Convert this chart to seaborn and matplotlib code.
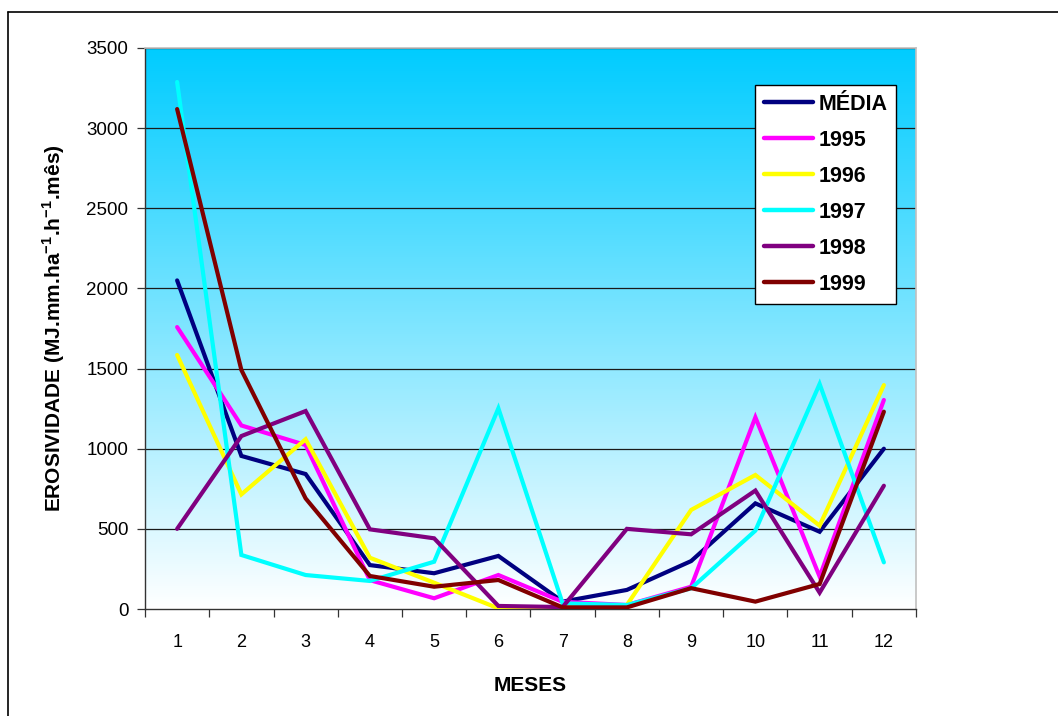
import numpy as np
import pandas as pd
import matplotlib
matplotlib.use("Agg")
import matplotlib.pyplot as plt
from matplotlib.colors import LinearSegmentedColormap
from matplotlib.lines import Line2D
import seaborn as sns

# Monthly erosivity (MJ.mm.ha-1.h-1.mês)
meses = list(range(1, 13))
media = [2050, 955, 842, 274, 223, 331, 46, 119, 299, 659, 482, 1000]
y1995 = [1759, 1145, 1023, 180, 67, 212, 45, 25, 139, 1196, 202, 1304]
y1996 = [1585, 715, 1059, 320, 164, 4, 10, 25, 618, 836, 520, 1397]
y1997 = [3288, 337, 212, 175, 295, 1252, 35, 25, 129, 489, 1404, 291]
y1998 = [500, 1079, 1235, 497, 441, 19, 12, 500, 466, 739, 102, 769]
y1999 = [3119, 1491, 690, 206, 139, 181, 10, 10, 130, 46, 156, 1231]

series_names = ["MÉDIA", "1995", "1996", "1997", "1998", "1999"]
series_values = [media, y1995, y1996, y1997, y1998, y1999]
series_colors = ["#000080", "#FF00FF", "#FFFF00", "#00FFFF", "#800080", "#800000"]

rows = []
for name, vals in zip(series_names, series_values):
    for m, v in zip(meses, vals):
        rows.append({"mes": m, "valor": v, "serie": name})
df = pd.DataFrame(rows)

sns.set_theme(style="white")
plt.rcParams["font.family"] = ["Liberation Sans", "DejaVu Sans"]
plt.rcParams["mathtext.fontset"] = "custom"
plt.rcParams["mathtext.rm"] = "Liberation Sans"
plt.rcParams["mathtext.bf"] = "Liberation Sans:bold"
plt.rcParams["text.color"] = "black"
plt.rcParams["axes.labelcolor"] = "black"
plt.rcParams["xtick.color"] = "black"
plt.rcParams["ytick.color"] = "black"

W, H = 1058, 716
fig = plt.figure(figsize=(W / 100, H / 100), dpi=100)
ax = fig.add_axes([145 / W, 1 - 609 / H, (916 - 145) / W, (609 - 48) / H])

# Outer chart frame
fig.add_artist(Line2D([8 / W, 8 / W], [0, 1 - 12 / H], transform=fig.transFigure,
                      color="black", lw=1.2))
fig.add_artist(Line2D([8 / W, 1], [1 - 12 / H, 1 - 12 / H], transform=fig.transFigure,
                      color="black", lw=1.2))

# Gradient background of the plot area
grad = np.linspace(0, 1, 256).reshape(-1, 1)
cmap = LinearSegmentedColormap.from_list("sky", ["#FFFFFF", "#00CCFF"])
ax.imshow(grad, extent=[0.5, 12.5, 0, 3500], origin="lower", aspect="auto",
          cmap=cmap, zorder=0)

for y in range(500, 3501, 500):
    ax.axhline(y, color="#1a1a1a", lw=0.9, zorder=1)

sns.lineplot(data=df, x="mes", y="valor", hue="serie", hue_order=series_names,
             palette=series_colors, linewidth=3.0, ax=ax, legend=False, zorder=3)
for line in ax.lines:
    line.set_solid_capstyle("round")
    line.set_solid_joinstyle("miter")

ax.set_xlim(0.5, 12.5)
ax.set_ylim(0, 3500)
ax.set_xticks(np.arange(0.5, 12.6, 1))
ax.set_xticklabels([])
ax.set_xticks(meses, minor=True)
ax.set_xticklabels([str(m) for m in meses], minor=True, fontsize=13)
ax.set_yticks(range(0, 3501, 500))
ax.set_yticklabels([str(v) for v in range(0, 3501, 500)], fontsize=13.5)
ax.tick_params(axis="x", which="major", direction="out", length=6, width=0.9,
               color="#333333", bottom=True)
ax.tick_params(axis="x", which="minor", length=0, pad=18, labelcolor="black")
ax.tick_params(axis="y", direction="out", length=6, width=0.9, color="#333333",
               left=True, pad=6, labelcolor="black")

for side in ["top", "right"]:
    ax.spines[side].set_color("#C0C0C0")
    ax.spines[side].set_linewidth(1.2)
for side in ["left", "bottom"]:
    ax.spines[side].set_color("#333333")
    ax.spines[side].set_linewidth(1.0)

ax.set_xlabel("MESES", fontsize=15, fontweight="bold", labelpad=18)
ax.set_ylabel(r"EROSIVIDADE (MJ.mm.ha$^{\mathbf{-1}}$.h$^{\mathbf{-1}}$.mês)",
              fontsize=15, fontweight="bold", labelpad=14)

handles = [Line2D([0], [0], color=c, lw=3.2, solid_capstyle="round") for c in series_colors]
leg = ax.legend(handles, series_names, loc="upper left",
                bbox_to_anchor=((755 - 145) / (916 - 145), 1 - (85 - 48) / (609 - 48)),
                borderaxespad=0, frameon=True, fancybox=False, shadow=False,
                framealpha=1, edgecolor="black", facecolor="white",
                handlelength=2.3, handletextpad=0.25, borderpad=0.4,
                labelspacing=0.7, prop={"weight": "bold", "size": 15.5})
leg.get_frame().set_linewidth(1.0)
leg.set_zorder(5)

fig.savefig("out.png", dpi=100, facecolor="white")
